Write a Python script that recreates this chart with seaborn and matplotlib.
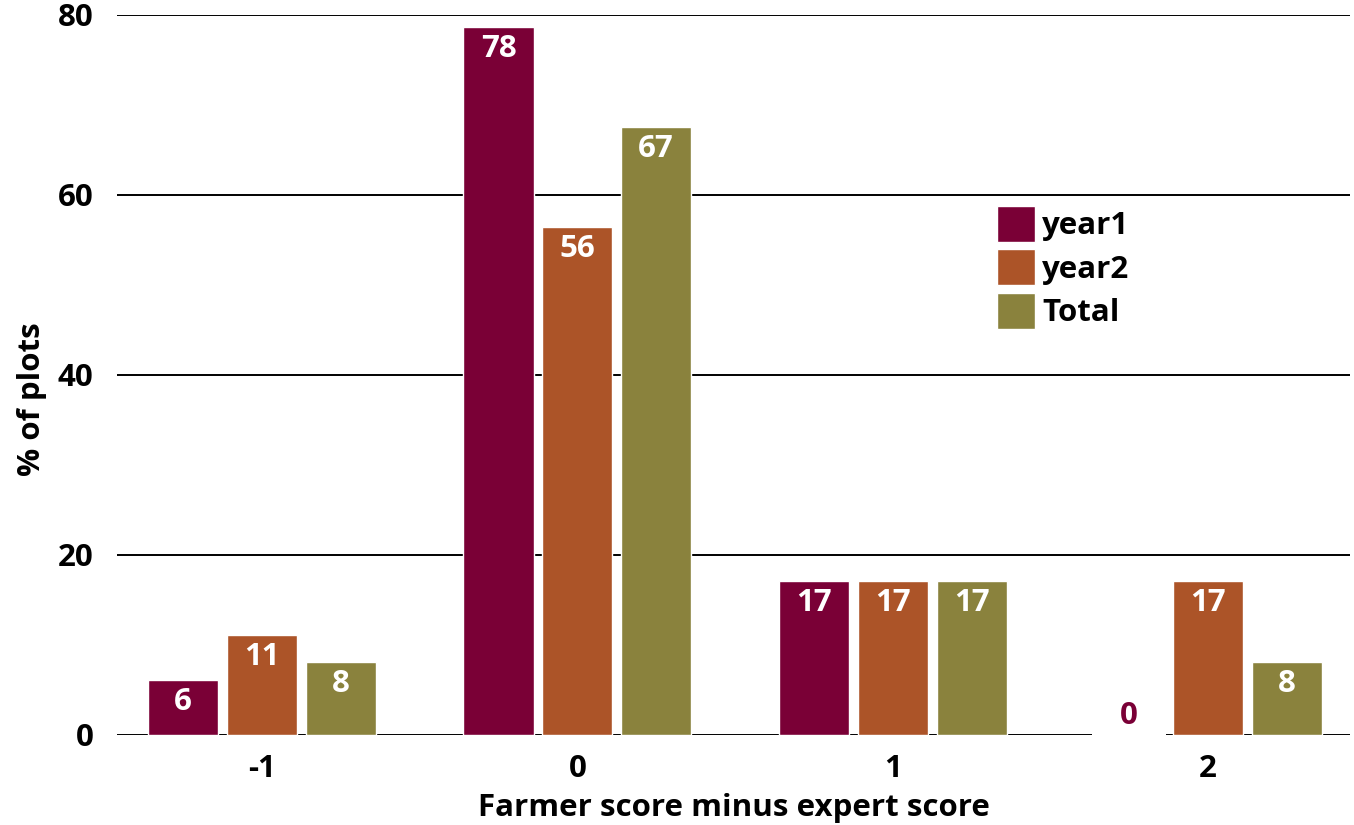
import matplotlib
matplotlib.use("Agg")
import matplotlib.pyplot as plt
import seaborn as sns
import pandas as pd

categories = ["-1", "0", "1", "2"]
series_names = ["year1", "year2", "Total"]
year1 = [6.1, 78.7, 17.1, 0.0]
year2 = [11.1, 56.4, 17.1, 17.1]
total = [8.1, 67.6, 17.1, 8.1]
year1_labels = ["6", "78", "17", "0"]
year2_labels = ["11", "56", "17", "17"]
total_labels = ["8", "67", "17", "8"]
colors = ["#7A0036", "#AC5428", "#8A823D"]
y_ticks = [0, 20, 40, 60, 80]

rows = []
for name, vals, labs in zip(series_names, [year1, year2, total],
                            [year1_labels, year2_labels, total_labels]):
    for c, v, l in zip(categories, vals, labs):
        rows.append({"cat": c, "series": name, "value": v, "label": l})
df = pd.DataFrame(rows)

sns.set_theme(style="white")
FONT = ["Open Sans", "DejaVu Sans"]
plt.rcParams["font.family"] = FONT
plt.rcParams["font.weight"] = "bold"
plt.rcParams["text.color"] = "black"
plt.rcParams["axes.labelcolor"] = "black"

fig = plt.figure(figsize=(13.54, 8.25), dpi=100)
W, H = 1354, 825
ax = fig.add_axes([117 / W, (H - 735) / H, (1350 - 117) / W, (735 - 15) / H])

sns.barplot(data=df, x="cat", y="value", hue="series", order=categories,
            hue_order=series_names, palette=colors, saturation=1,
            width=0.75, gap=0.11, ax=ax, legend=True, zorder=3)

ax.set_ylim(0, 80)
ax.set_xlim(-0.46, 3.45)
ax.set_yticks(y_ticks)
ax.yaxis.grid(True, color="black", linewidth=1.4, zorder=0)
ax.set_axisbelow(True)
for s in ax.spines.values():
    s.set_visible(False)
ax.tick_params(axis="both", length=0, labelsize=22.5, colors="black")
ax.tick_params(axis="y", pad=17)
ax.tick_params(axis="x", pad=14)
for t in ax.get_xticklabels() + ax.get_yticklabels():
    t.set_fontweight("bold")

ax.set_xlabel("Farmer score minus expert score", fontsize=22.5, fontweight="bold",
              labelpad=6, color="black")
ax.set_ylabel("% of plots", fontsize=22.5, fontweight="bold", color="black")
ax.yaxis.set_label_coords(-0.057, 0.467)

# bar labels
for cont, name in zip(ax.containers, series_names):
    sub = df[df.series == name]
    for bar, (_, r) in zip(cont.patches, sub.iterrows()):
        xc = bar.get_x() + bar.get_width() / 2
        h = bar.get_height()
        if h > 0:
            ax.annotate(r["label"], (xc, h), xytext=(0, -5), textcoords="offset points",
                        ha="center", va="top", color="white", fontsize=22.5,
                        fontweight="bold", zorder=5)
        else:
            ax.annotate(r["label"], (xc, 0), xytext=(0, 3), textcoords="offset points",
                        ha="center", va="bottom", color=colors[0], fontsize=22.5,
                        fontweight="bold", zorder=5,
                        bbox=dict(boxstyle="square,pad=0.9", fc="white", ec="none"))

handles, labels = ax.get_legend_handles_labels()
ax.legend(handles, labels, loc="upper left", bbox_to_anchor=(997 / W, 1 - 206 / H),
          bbox_transform=fig.transFigure, frameon=False, fontsize=22.5,
          handlelength=1.2, handleheight=1.39, handletextpad=0.25,
          labelspacing=0.24, borderpad=0, borderaxespad=0,
          labelcolor="black")
for t in ax.get_legend().get_texts():
    t.set_fontweight("bold")

fig.savefig("out.png", dpi=100)
